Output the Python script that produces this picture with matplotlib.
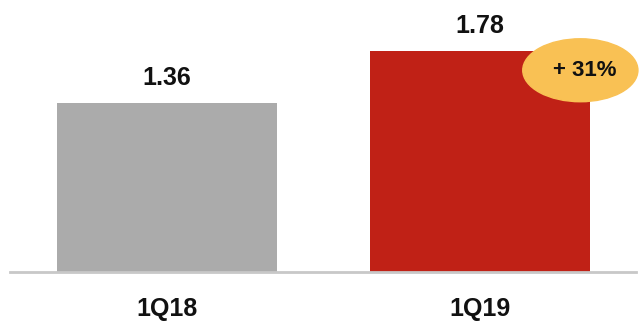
import matplotlib.pyplot as plt
from matplotlib.patches import Ellipse

plt.rcParams['font.family'] = ['Liberation Sans', 'DejaVu Sans']

categories = ["1Q18", "1Q19"]
values = [1.36, 1.78]
colors = ["#ABABAB", "#C02116"]
growth_label = "+ 31%"

fig = plt.figure(figsize=(6.43, 3.21), dpi=100)
ax = fig.add_axes([0.0156, 0.1526, 0.9736, 0.775])

x = list(range(len(categories)))
bars = ax.bar(x, values, width=0.703, color=colors, zorder=2)

for xi, v in zip(x, values):
    ax.annotate(f"{v:.2f}", xy=(xi, v), xytext=(0, 18), textcoords="offset points",
                ha="center", va="center", fontsize=18, fontweight="bold", color="#111111")

# growth bubble
ell = Ellipse((1.322, 1.622), 0.368, 0.506, color="#F9C154", zorder=3, clip_on=False)
ax.add_patch(ell)
ax.text(1.337, 1.622, growth_label, ha="center", va="center", fontsize=16,
        fontweight="bold", color="#111111", zorder=4)

ax.set_xlim(-0.5, 1.5)
ax.set_ylim(0, 2.0)
ax.set_xticks(x)
ax.set_xticklabels(categories, fontsize=18, fontweight="bold", color="#111111")
ax.tick_params(axis="x", length=0, pad=18)
ax.set_yticks([])
for s in ["top", "right", "left"]:
    ax.spines[s].set_visible(False)
ax.spines["bottom"].set_color("#C8C8C8")
ax.spines["bottom"].set_linewidth(2)

fig.savefig("out.png", dpi=100)
